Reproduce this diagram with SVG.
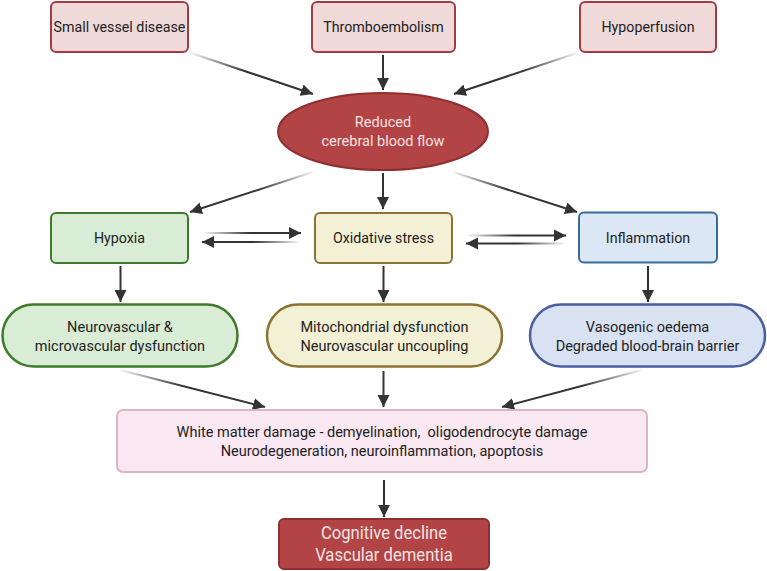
<svg xmlns="http://www.w3.org/2000/svg" width="767" height="571" viewBox="0 0 767 571">
<style>
  text { font-family: Roboto, "Liberation Sans", sans-serif; fill: #222; text-anchor: middle; }
  .tb { font-size: 15.5px; transform-box: fill-box; transform-origin: center; transform: scaleX(0.92); }
  .tp { font-size: 14.5px; }
  .tw { fill: #f7e3e3; }
  .tc { font-size: 17.5px; fill: #f7e3e3; transform-box: fill-box; transform-origin: center; transform: scaleX(0.95); }
  .red { fill: #f0d9d9; stroke: #a63a44; stroke-width: 2; }
  .green { fill: #d9ecd6; stroke: #3c7a2c; stroke-width: 2; }
  .yellow { fill: #f3f0d6; stroke: #8c7333; stroke-width: 2; }
  .blue { fill: #dbe7f4; stroke: #3b6b9b; stroke-width: 2; }
  .gpill { fill: #d9ecd5; stroke: #3f7b2a; stroke-width: 2.5; }
  .ypill { fill: #f2f0d5; stroke: #8c7333; stroke-width: 2.5; }
  .bpill { fill: #d9e2f3; stroke: #4a5ea1; stroke-width: 2.5; }
  .pink { fill: #f9e7f1; stroke: #dcb3c7; stroke-width: 2; }
  .dark { fill: #b24445; stroke: #8f2f31; stroke-width: 2; }
  .c { fill: none; stroke-width: 2; marker-end: url(#ah); }
  .s { stroke: #333; }
</style>
<defs>
  <marker id="ah" markerUnits="userSpaceOnUse" markerWidth="13" markerHeight="13" refX="12" refY="6.5" orient="auto">
    <path d="M0,0.5 L12,6.5 L0,12.5 z" fill="#333"/>
  </marker>
  <linearGradient id="g1" gradientUnits="userSpaceOnUse" x1="191" y1="53" x2="245" y2="71"><stop offset="0" stop-color="#333" stop-opacity="0.05"/><stop offset="1" stop-color="#333"/></linearGradient>
  <linearGradient id="g3" gradientUnits="userSpaceOnUse" x1="577" y1="53" x2="523" y2="71"><stop offset="0" stop-color="#333" stop-opacity="0.05"/><stop offset="1" stop-color="#333"/></linearGradient>
  <linearGradient id="g4" gradientUnits="userSpaceOnUse" x1="313" y1="172" x2="259" y2="190"><stop offset="0" stop-color="#333" stop-opacity="0.05"/><stop offset="1" stop-color="#333"/></linearGradient>
  <linearGradient id="g6" gradientUnits="userSpaceOnUse" x1="453" y1="172" x2="507" y2="190"><stop offset="0" stop-color="#333" stop-opacity="0.05"/><stop offset="1" stop-color="#333"/></linearGradient>
  <linearGradient id="g7a" gradientUnits="userSpaceOnUse" x1="204" y1="0" x2="250" y2="0"><stop offset="0" stop-color="#333" stop-opacity="0.05"/><stop offset="1" stop-color="#333"/></linearGradient>
  <linearGradient id="g7b" gradientUnits="userSpaceOnUse" x1="299" y1="0" x2="253" y2="0"><stop offset="0" stop-color="#333" stop-opacity="0.05"/><stop offset="1" stop-color="#333"/></linearGradient>
  <linearGradient id="g8a" gradientUnits="userSpaceOnUse" x1="468" y1="0" x2="514" y2="0"><stop offset="0" stop-color="#333" stop-opacity="0.05"/><stop offset="1" stop-color="#333"/></linearGradient>
  <linearGradient id="g8b" gradientUnits="userSpaceOnUse" x1="564" y1="0" x2="518" y2="0"><stop offset="0" stop-color="#333" stop-opacity="0.05"/><stop offset="1" stop-color="#333"/></linearGradient>
  <linearGradient id="g12" gradientUnits="userSpaceOnUse" x1="120" y1="370" x2="182" y2="386"><stop offset="0" stop-color="#333" stop-opacity="0.05"/><stop offset="1" stop-color="#333"/></linearGradient>
  <linearGradient id="g14" gradientUnits="userSpaceOnUse" x1="642" y1="370" x2="582" y2="386"><stop offset="0" stop-color="#333" stop-opacity="0.05"/><stop offset="1" stop-color="#333"/></linearGradient>
</defs>

<g id="connectors">
  <line class="c" x1="191" y1="53" x2="313" y2="94" stroke="url(#g1)"/>
  <line class="c s" x1="383" y1="55" x2="383" y2="90"/>
  <line class="c" x1="577" y1="53" x2="454" y2="94" stroke="url(#g3)"/>
  <line class="c" x1="313" y1="172" x2="190" y2="212" stroke="url(#g4)"/>
  <line class="c s" x1="383" y1="173" x2="383" y2="209"/>
  <line class="c" x1="453" y1="172" x2="577" y2="212" stroke="url(#g6)"/>
  <line class="c" x1="204" y1="233" x2="301" y2="233" stroke="url(#g7a)"/>
  <line class="c" x1="299" y1="242" x2="202" y2="242" stroke="url(#g7b)"/>
  <line class="c" x1="468" y1="235.5" x2="566" y2="235.5" stroke="url(#g8a)"/>
  <line class="c" x1="564" y1="243.5" x2="466" y2="243.5" stroke="url(#g8b)"/>
  <line class="c s" x1="120.5" y1="266" x2="120.5" y2="302"/>
  <line class="c s" x1="383.5" y1="266" x2="383.5" y2="302"/>
  <line class="c s" x1="648" y1="266" x2="648" y2="302"/>
  <line class="c" x1="120" y1="370" x2="265" y2="407" stroke="url(#g12)"/>
  <line class="c s" x1="383.5" y1="371" x2="383.5" y2="407"/>
  <line class="c" x1="642" y1="370" x2="502" y2="407" stroke="url(#g14)"/>
  <line class="c s" x1="384" y1="480" x2="384" y2="517"/>
</g>

<g id="small-vessel-disease">
  <rect class="red" x="51" y="2" width="137" height="50" rx="5"/>
  <text class="tb" x="119.5" y="32.5">Small vessel disease</text>
</g>
<g id="thromboembolism">
  <rect class="red" x="312" y="2" width="143" height="50" rx="5"/>
  <text class="tb" x="383.5" y="32.5">Thromboembolism</text>
</g>
<g id="hypoperfusion">
  <rect class="red" x="580" y="2" width="136" height="50" rx="5"/>
  <text class="tb" x="648" y="32.5">Hypoperfusion</text>
</g>

<g id="reduced-cbf">
  <ellipse class="dark" cx="383" cy="131.5" rx="105" ry="38.5"/>
  <text class="tp tw" x="383" y="127">Reduced</text>
  <text class="tp tw" x="383" y="146">cerebral blood flow</text>
</g>

<g id="hypoxia">
  <rect class="green" x="51" y="213" width="137" height="50" rx="5"/>
  <text class="tb" x="119.5" y="243.5">Hypoxia</text>
</g>
<g id="oxidative-stress">
  <rect class="yellow" x="315" y="213" width="137" height="50" rx="5"/>
  <text class="tb" x="383.5" y="243.5">Oxidative stress</text>
</g>
<g id="inflammation">
  <rect class="blue" x="579" y="212.5" width="138" height="50" rx="5"/>
  <text class="tb" x="648" y="243">Inflammation</text>
</g>

<g id="neurovascular-dysfunction">
  <rect class="gpill" x="2.5" y="304.5" width="235" height="62" rx="31"/>
  <text class="tp" x="120" y="331.5">Neurovascular &amp;</text>
  <text class="tp" x="120" y="350.5">microvascular dysfunction</text>
</g>
<g id="mitochondrial-dysfunction">
  <rect class="ypill" x="267" y="304.5" width="235" height="62" rx="31"/>
  <text class="tp" x="384.5" y="331.5">Mitochondrial dysfunction</text>
  <text class="tp" x="384.5" y="350.5">Neurovascular uncoupling</text>
</g>
<g id="vasogenic-oedema">
  <rect class="bpill" x="530" y="304.5" width="235" height="62" rx="31"/>
  <text class="tp" x="647.5" y="331.5">Vasogenic oedema</text>
  <text class="tp" x="647.5" y="350.5">Degraded blood-brain barrier</text>
</g>

<g id="white-matter-damage">
  <rect class="pink" x="117" y="410" width="530" height="62" rx="6"/>
  <text class="tp" x="382" y="436.5" xml:space="preserve">White matter damage - demyelination,  oligodendrocyte damage</text>
  <text class="tp" x="382" y="455.5">Neurodegeneration, neuroinflammation, apoptosis</text>
</g>

<g id="cognitive-decline">
  <rect class="dark" x="279" y="519" width="210" height="50" rx="5"/>
  <text class="tc" x="384" y="539.5">Cognitive decline</text>
  <text class="tc" x="384" y="561">Vascular dementia</text>
</g>
</svg>
